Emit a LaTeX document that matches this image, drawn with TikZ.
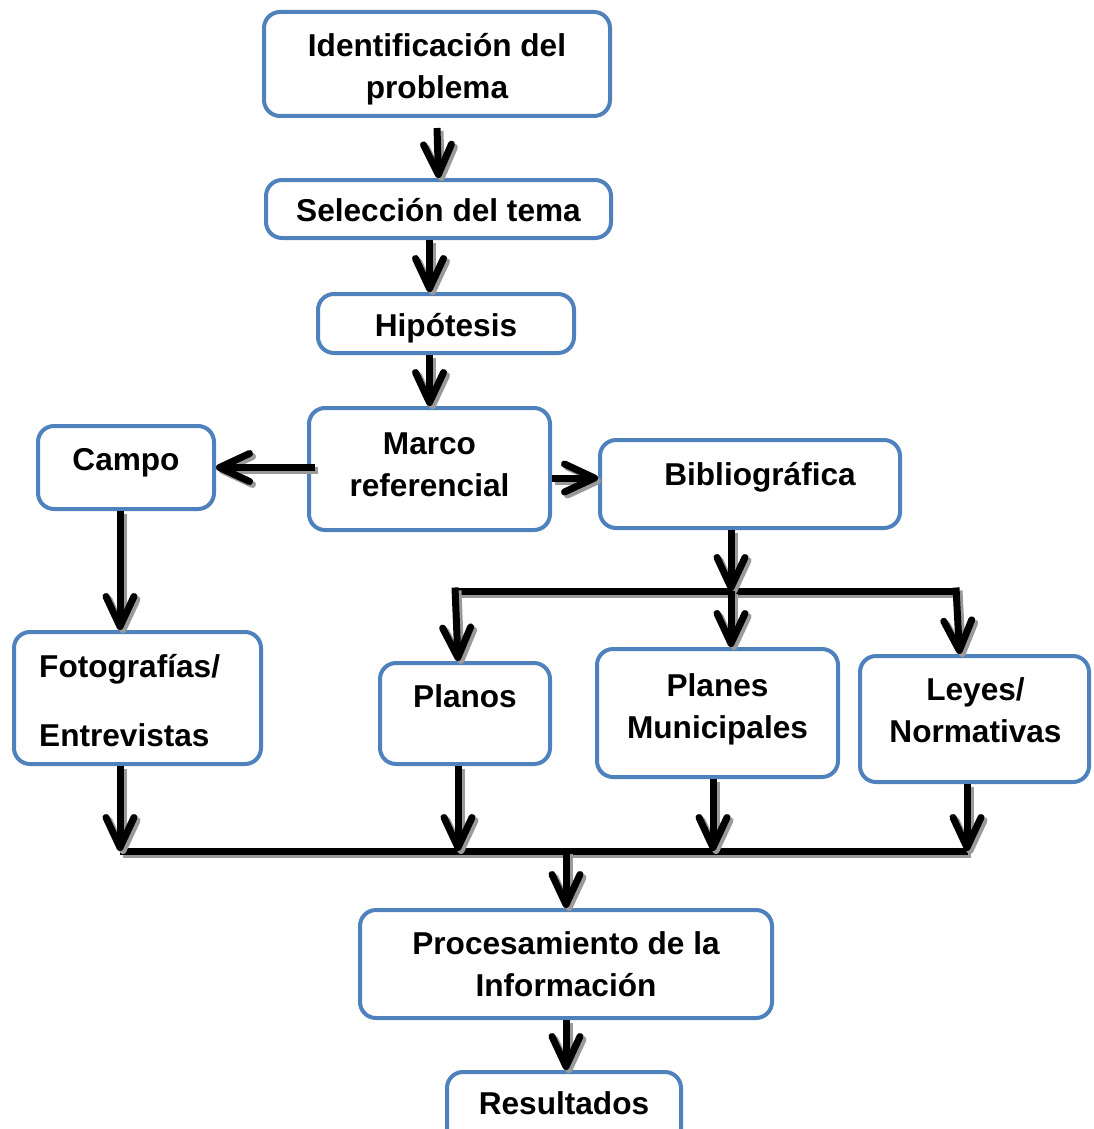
\documentclass[tikz,border=0pt]{standalone}
\usepackage{fontspec}
\setmainfont{Liberation Sans}
\usetikzlibrary{arrows.meta}
\definecolor{boxblue}{HTML}{4F81BD}
\definecolor{shadowgray}{HTML}{9A9A9A}
\tikzset{
  box/.style={draw=boxblue, line width=4pt, rounded corners=16pt, fill=white, inner sep=0pt},
  txt/.style={font=\fontsize{31.6}{42}\selectfont\bfseries, align=center, inner sep=0pt},
  conn/.style={line width=7pt, -{Straight Barb[length=30pt,width=28pt,round]}},
  bus/.style={line width=7pt},
  shad/.style={draw=shadowgray, transform canvas={shift={(3pt,-3pt)}}},
}
\newcommand\link[2][conn]{\draw[#1,shad] #2; \draw[#1] #2;}
\begin{document}
\begin{tikzpicture}[x=1pt,y=-1pt]
\useasboundingbox (0,0) rectangle (1093,1129);
\clip (0,0) rectangle (1093,1129);
% boxes
\node[box, minimum width=346pt, minimum height=104pt] (id) at (437,64) {};
\node[txt] (idt) at ([yshift=-5pt]id.center) {Identificación del\\problema};
\node[box, minimum width=345pt, minimum height=58pt] (sel) at (438.5,209) {};
\node[txt] (selt) at ([yshift=-1pt]sel.center) {Selección del tema};
\node[box, minimum width=256pt, minimum height=59pt] (hip) at (446,323.5) {};
\node[txt] (hipt) at ([yshift=-5pt]hip.center) {Hipótesis};
\node[box, minimum width=241pt, minimum height=122pt] (mar) at (429.5,469) {};
\node[txt] (mart) at ([yshift=4pt]mar.center) {Marco\\referencial};
\node[box, minimum width=176pt, minimum height=83pt] (campo) at (126,467.5) {};
\node[txt] (campot) at ([yshift=5pt]campo.center) {Campo};
\node[box, minimum width=300pt, minimum height=88pt] (bib) at (750,484) {};
\node[txt] (bibt) at ([xshift=10pt,yshift=7pt]bib.center) {Bibliográfica};
\node[box, minimum width=247pt, minimum height=132pt] (foto) at (137.5,698) {};
\node[txt, align=left, anchor=west] (fotot) at (39,700.5) {Fotografías/\\[27pt]Entrevistas};
\node[box, minimum width=170pt, minimum height=101pt] (planos) at (465,713.5) {};
\node[txt] (planost) at ([yshift=17pt]planos.center) {Planos};
\node[box, minimum width=241pt, minimum height=128pt] (planes) at (717.5,713) {};
\node[txt] (planest) at ([yshift=4pt]planes.center) {Planes\\Municipales};
\node[box, minimum width=229pt, minimum height=126pt] (leyes) at (974.5,719) {};
\node[txt] (leyest) at ([xshift=1pt,yshift=9pt]leyes.center) {Leyes/\\Normativas};
\node[box, minimum width=412pt, minimum height=108pt] (proc) at (566,964) {};
\node[txt] (proct) at (proc.center) {Procesamiento de la\\Información};
\node[box, minimum width=234pt, minimum height=78pt] (res) at (564,1111) {};
\node[txt] (rest) at ([yshift=7.5pt]res.center) {Resultados};
% helper coordinates
\coordinate (busTL) at (455,591);
\coordinate (busTR) at (956,591);
\coordinate (busBL) at (120,851);
\coordinate (busBR) at (968,851);
\coordinate (bibx) at (731,591);
\coordinate (mw) at ([xshift=8pt]mar.west);
\coordinate (bibin) at ([yshift=6pt]bib.west);
\coordinate (campox) at ([xshift=-6pt]campo.south);
\coordinate (fotox) at ([xshift=-17.5pt]foto.south);
\coordinate (plx) at ([xshift=-7pt]planos.south);
\coordinate (pnx) at ([xshift=-4.5pt]planes.south);
\coordinate (lyx) at ([xshift=-7.5pt]leyes.south);
% connectors
\link{([yshift=-10pt]id.south) -- (sel.north)}
\link{(sel.south -| mar.north) -- (hip.north -| mar.north)}
\link{(hip.south -| mar.north) -- (mar.north)}
\link{(mw |- campo.east) -- (campo.east)}
\link{(mar.east |- bibin) -- (bibin)}
\link{(campox) -- (campox |- foto.north)}
\link[bus]{(busTL) -- (busTR)}
\link{(bibx |- bib.south) -- (bibx)}
\link{([yshift=3.5pt]busTL) -- ([xshift=-7pt]planos.north)}
\link{(bibx) -- (bibx |- planes.north)}
\link{([yshift=3.5pt]busTR) -- ([xshift=-15pt]leyes.north)}
\link[bus]{(busBL) -- (busBR)}
\link{(fotox) -- (busBL)}
\link{(plx) -- (plx |- busBL)}
\link{(pnx) -- (pnx |- busBL)}
\link{(lyx) -- (lyx |- busBL)}
\link{(proc.north |- busBL) -- (proc.north)}
\link{(proc.south) -- (res.north -| proc.south)}
\end{tikzpicture}
\end{document}
